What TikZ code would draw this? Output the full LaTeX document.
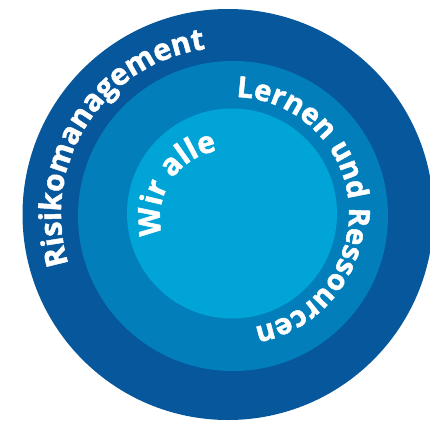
\documentclass[tikz,border=0pt]{standalone}
\usepackage{fontspec}
\newfontfamily\lbl{Open Sans}[BoldFeatures={FakeBold=1.6}]
\usetikzlibrary{decorations.text}
\definecolor{ringA}{HTML}{06579B}
\definecolor{ringB}{HTML}{027FBA}
\definecolor{ringC}{HTML}{00A4D6}
\tikzset{
  ringtext/.style={decorate, decoration={text along path, text align=center, text color=white}}
}
\begin{document}
\begin{tikzpicture}[x=1pt,y=1pt]
\useasboundingbox (0,0) rectangle (430,421);
\clip (0,0) rectangle (430,421);
\node[circle, fill=ringA, minimum size=411pt, inner sep=0pt] (outer) at (228,206.5) {};
\node[circle, fill=ringB, minimum size=310pt, inner sep=0pt] (middle) at (233,205) {};
\node[circle, fill=ringC, minimum size=210pt, inner sep=0pt] (inner) at (232,207.5) {};
\coordinate (c1) at (228,206.5);
\coordinate (c2) at (233,208);
\coordinate (c3) at (228,203);
\path[ringtext, decoration={text={|\lbl\bfseries\fontsize{30}{30}\selectfont|Risikomanagement}}]
  (c1) ++(230:167) arc[start angle=230, end angle=65, radius=167];
\path[ringtext, decoration={text={|\lbl\bfseries\fontsize{29}{29}\selectfont|Lernen und Ressourcen}}]
  (c2) ++(110:116) arc[start angle=110, end angle=-101, radius=116];
\path[ringtext, decoration={text={|\lbl\bfseries\fontsize{30}{30}\selectfont|Wir alle}}]
  (c3) ++(230:68) arc[start angle=230, end angle=64, radius=68];
\end{tikzpicture}
\end{document}
